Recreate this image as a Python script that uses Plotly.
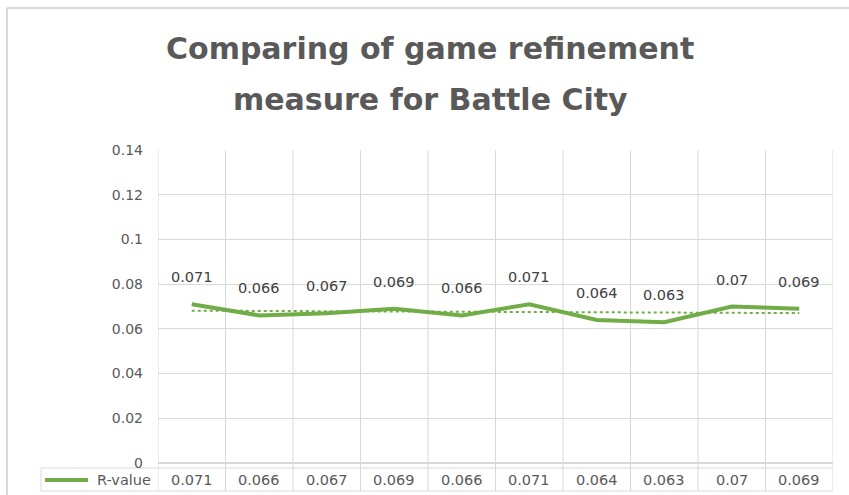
import plotly.graph_objects as go
import numpy as np

title_lines = ["Comparing of game refinement", "measure for Battle City"]
series_name = "R-value"
categories = ["1", "2", "3", "4", "5", "6", "7", "8", "9", "10"]
values = [0.071, 0.066, 0.067, 0.069, 0.066, 0.071, 0.064, 0.063, 0.07, 0.069]
table_labels = ["0.071", "0.066", "0.067", "0.069", "0.066", "0.071", "0.064", "0.063", "0.07", "0.069"]
y_ticks = [0, 0.02, 0.04, 0.06, 0.08, 0.1, 0.12, 0.14]
y_tick_labels = ["0", "0.02", "0.04", "0.06", "0.08", "0.1", "0.12", "0.14"]

W, H = 849, 495
L, R, T, B = 158, 16, 150, 32
PW, PH = W - L - R, H - T - B

def px_x(x):
    return (x - L) / PW

def px_y(y):
    return (H - B - y) / PH

xs = list(range(len(values)))
slope, intercept = np.polyfit(np.arange(1, len(values) + 1), values, 1)
trend = [intercept + slope * (i + 1) for i in xs]

GREEN = "#70AD47"
GRID = "#D9D9D9"
TXT = "#595959"
FONT = "DejaVu Sans"

fig = go.Figure()
fig.add_trace(go.Scatter(x=xs, y=values, mode="lines", name=series_name,
                         line=dict(color=GREEN, width=4), showlegend=False, hoverinfo="skip"))
fig.add_trace(go.Scatter(x=[xs[0], xs[-1]], y=[trend[0], trend[-1]], mode="lines",
                         line=dict(color=GREEN, width=2, dash="dot"), showlegend=False, hoverinfo="skip"))

shapes = []
table_bottom = px_y(491)
table_top = px_y(468)
for i in range(len(values) + 1):
    shapes.append(dict(type="line", xref="x", yref="paper", x0=i - 0.5, x1=i - 0.5,
                       y0=table_bottom, y1=1, line=dict(color=GRID, width=1), layer="below"))
for yy in [table_top, table_bottom]:
    shapes.append(dict(type="line", xref="paper", yref="paper", x0=px_x(41), x1=1,
                       y0=yy, y1=yy, line=dict(color=GRID, width=1), layer="below"))
shapes.append(dict(type="line", xref="paper", yref="paper", x0=px_x(41), x1=px_x(41),
                   y0=table_bottom, y1=table_top, line=dict(color=GRID, width=1)))
# legend key in table
shapes.append(dict(type="line", xref="paper", yref="paper", x0=px_x(45), x1=px_x(88),
                   y0=px_y(480), y1=px_y(480), line=dict(color=GREEN, width=4)))
# outer chart border
shapes.append(dict(type="line", xref="paper", yref="paper", x0=px_x(7), x1=px_x(W + 5),
                   y0=px_y(8), y1=px_y(8), line=dict(color=GRID, width=2)))
shapes.append(dict(type="line", xref="paper", yref="paper", x0=px_x(7), x1=px_x(7),
                   y0=px_y(8), y1=px_y(H + 5), line=dict(color=GRID, width=2)))

annotations = []
for i, v in enumerate(values):
    annotations.append(dict(x=i, y=v, xref="x", yref="y", text=table_labels[i],
                            showarrow=False, yshift=27,
                            font=dict(family=FONT, size=14.5, color="#404040")))
    annotations.append(dict(x=i, y=px_y(480), xref="x", yref="paper", text=table_labels[i],
                            showarrow=False, yanchor="middle",
                            font=dict(family=FONT, size=14.5, color=TXT)))
annotations.append(dict(x=px_x(153), y=px_y(480), xref="paper", yref="paper", text=series_name,
                        showarrow=False, xanchor="right", yanchor="middle",
                        font=dict(family=FONT, size=14.5, color=TXT)))
for k, (line, yc) in enumerate(zip(title_lines, [48, 100])):
    annotations.append(dict(x=px_x(430), y=px_y(yc), xref="paper", yref="paper", text="<b>" + line + "</b>",
                            showarrow=False, xanchor="center", yanchor="middle",
                            font=dict(family=FONT, size=30, color=TXT)))

fig.update_layout(
    width=W, height=H,
    margin=dict(l=L, r=R, t=T, b=B, pad=0),
    paper_bgcolor="white", plot_bgcolor="white",
    xaxis=dict(range=[-0.5, len(values) - 0.5], showgrid=False, zeroline=False,
               showticklabels=False, ticks="", showline=False, fixedrange=True),
    yaxis=dict(range=[0, 0.14], tickvals=y_ticks, ticktext=y_tick_labels,
               showgrid=True, gridcolor=GRID, gridwidth=1, zeroline=True, zerolinecolor=GRID,
               showline=False, ticks="", ticklabelstandoff=14, fixedrange=True,
               tickfont=dict(family=FONT, size=14, color=TXT)),
    shapes=shapes, annotations=annotations, showlegend=False, hovermode=False,
)

fig.write_html("out.html", config={"displayModeBar": False},
               post_script="document.body.style.margin='0';document.body.style.overflow='hidden';")
